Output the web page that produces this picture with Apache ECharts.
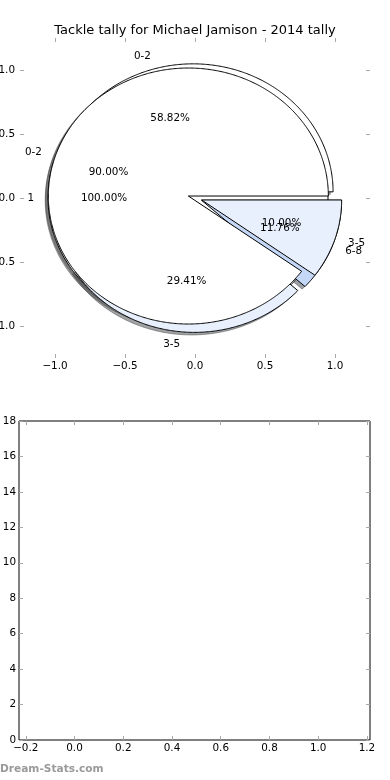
<!DOCTYPE html>
<html>
<head>
<meta charset="utf-8">
<script src="https://cdn.jsdelivr.net/npm/echarts@6/dist/echarts.min.js"></script>
<style>
html,body{margin:0;padding:0;background:#fff;}
#chart{width:390px;height:780px;}
</style>
</head>
<body>
<div id="chart"></div>
<script>
// ---- data ----
const chartTitle = 'Tackle tally for Michael Jamison - 2014 tally';
const pieLabelsA = ['1'];
const pieValuesA = [1];
const pieLabelsB = ['0-2', '3-5'];
const pieValuesB = [9, 1];
const pieLabelsC = ['0-2', '3-5', '6-8'];
const pieValuesC = [10, 5, 2];
const topTickMin = -1.0, topTickMax = 1.0, topTickStep = 0.5;
const bottomXTickMin = -0.2, bottomXTickMax = 1.2, bottomXTickStep = 0.2;
const bottomYMin = 0, bottomYMax = 18, bottomYStep = 2;
const watermark = 'Dream-Stats.com';

// ---- style ----
const sliceColors = [[255, 255, 255], [233, 240, 253], [196, 215, 247]];
const EXPLODE = 0.05;
const FONT = '"DejaVu Sans", sans-serif';
const FS = 10.4;

function fmt1(v) { return (v < 0 ? '\u2212' : '') + Math.abs(v).toFixed(1); }

function slicesOf(values, labels) {
  const total = values.reduce((a, b) => a + b, 0);
  let a = 0;
  return values.map((v, i) => {
    const t1 = a, t2 = a + 360 * v / total;
    a = t2;
    return { t1, t2, mid: (t1 + t2) / 2, frac: v / total, label: labels[i], ci: i };
  });
}
// drawing order as in the reference: A, then C, then B
const pies = [
  slicesOf(pieValuesA, pieLabelsA),
  slicesOf(pieValuesC, pieLabelsC),
  slicesOf(pieValuesB, pieLabelsB)
];

const rad = d => d * Math.PI / 180;

function wedgePoints(api, s, dx, dy) {
  const m = rad(s.mid);
  const cx = EXPLODE * Math.cos(m) + dx, cy = EXPLODE * Math.sin(m) + dy;
  const pts = [];
  const full = (s.t2 - s.t1) >= 359.999;
  if (!full) pts.push(api.coord([cx, cy]));
  const n = Math.max(2, Math.ceil((s.t2 - s.t1) / 0.5));
  for (let k = 0; k <= n; k++) {
    const t = rad(s.t1 + (s.t2 - s.t1) * k / n);
    pts.push(api.coord([cx + Math.cos(t), cy + Math.sin(t)]));
  }
  return pts;
}

function rgb(c, k) { return 'rgb(' + c.map(x => Math.round(x * k)).join(',') + ')'; }

const allSlices = [];
pies.forEach(p => p.forEach(s => allSlices.push(s)));

const series = [];
series.push({
  type: 'custom', xAxisIndex: 0, yAxisIndex: 0, z: 1, silent: true,
  data: allSlices.map(s => [0, 0, s.frac]),
  renderItem: function (params, api) {
    const s = allSlices[params.dataIndex];
    const c = sliceColors[s.ci];
    const col = 'rgba(' + c.map(x => Math.round(x * 0.3)).join(',') + ',0.5)';
    return { type: 'polygon', shape: { points: wedgePoints(api, s, -0.02, -0.02) },
      style: { fill: col, stroke: col, lineWidth: 1 } };
  }
});
pies.forEach((p, pi) => {
  series.push({
    type: 'custom', xAxisIndex: 0, yAxisIndex: 0, z: 2 + pi, silent: true,
    data: p.map(s => [0, 0, s.frac]),
    renderItem: function (params, api) {
      const s = p[params.dataIndex];
      return { type: 'polygon', shape: { points: wedgePoints(api, s, 0, 0) },
        style: { fill: rgb(sliceColors[s.ci], 1), stroke: '#000', lineWidth: 1 } };
    }
  });
});
series.push({
  type: 'custom', xAxisIndex: 0, yAxisIndex: 0, z: 10, silent: true,
  data: allSlices.map(s => [0, 0, s.frac]),
  renderItem: function (params, api) {
    const s = allSlices[params.dataIndex];
    const m = rad(s.mid);
    const lx = (EXPLODE + 1.1) * Math.cos(m), ly = (EXPLODE + 1.1) * Math.sin(m);
    const px = (EXPLODE + 0.6) * Math.cos(m), py = (EXPLODE + 0.6) * Math.sin(m);
    const lp = api.coord([lx, ly]), pp = api.coord([px, py]);
    return { type: 'group', children: [
      { type: 'text', x: lp[0], y: lp[1], style: { text: s.label, fill: '#000',
        font: FS + 'px ' + FONT, align: lx > 0 ? 'left' : 'right', verticalAlign: 'middle' } },
      { type: 'text', x: pp[0], y: pp[1], style: { text: (s.frac * 100).toFixed(2) + '%', fill: '#000',
        font: FS + 'px ' + FONT, align: 'center', verticalAlign: 'middle' } }
    ] };
  }
});

const tickStyle = { show: true, inside: true, length: 4, lineStyle: { color: '#a8a8a8', width: 1 } };
const labelStyle = { color: '#000', fontSize: FS, fontFamily: FONT };

function ax(gi, pos, min, max, opts) {
  return Object.assign({
    type: 'value', gridIndex: gi, position: pos, min: min, max: max,
    axisLine: { show: false, onZero: false }, splitLine: { show: false },
    axisTick: tickStyle, axisLabel: { show: false }
  }, opts || {});
}
function hidden(gi, min, max) {
  return { type: 'value', gridIndex: gi, min: min, max: max, show: false,
    axisLine: { onZero: false }, splitLine: { show: false } };
}
function g(o) { return Object.assign({ outerBoundsMode: 'none', containLabel: false, show: false }, o); }

const option = {
  animation: false,
  backgroundColor: '#fff',
  title: { text: chartTitle, left: 'center', top: 19,
    textStyle: { color: '#000', fontSize: 13, fontWeight: 'normal', fontFamily: FONT } },
  graphic: [{ type: 'text', left: 0, top: 764, style: { text: watermark, fill: '#9a9a9a',
    font: 'bold 10.6px ' + FONT } }],
  grid: [
    g({ left: 20, width: 350, top: 38, height: 320 }),                 // 0 pie coords
    g({ left: 19, width: 351, top: 421, height: 319, show: true,
        borderColor: '#000', borderWidth: 1, backgroundColor: 'transparent' }), // 1 bottom frame + y ticks
    g({ left: 55, width: 280, top: 38, height: 320 }),                 // 2 top x ticks
    g({ left: 20, width: 350, top: 70, height: 256 }),                 // 3 top y ticks
    g({ left: 25.76, width: 341.2, top: 421, height: 319 })            // 4 bottom x ticks
  ],
  xAxis: [
    hidden(0, -1.25, 1.25),
    hidden(1, -0.2275, 1.2125),
    ax(2, 'bottom', topTickMin, topTickMax, { interval: topTickStep,
      axisLabel: Object.assign({ show: true, margin: 3, formatter: fmt1 }, labelStyle) }),
    ax(2, 'top', topTickMin, topTickMax, { interval: topTickStep }),
    hidden(3, 0, 1),
    ax(4, 'bottom', bottomXTickMin, bottomXTickMax, { interval: bottomXTickStep,
      axisLabel: Object.assign({ show: true, margin: 3, formatter: fmt1 }, labelStyle) }),
    ax(4, 'top', bottomXTickMin, bottomXTickMax, { interval: bottomXTickStep })
  ],
  yAxis: [
    hidden(0, -1.25, 1.25),
    ax(1, 'left', bottomYMin, bottomYMax, { interval: bottomYStep,
      axisLabel: Object.assign({ show: true, margin: 3 }, labelStyle) }),
    ax(1, 'right', bottomYMin, bottomYMax, { interval: bottomYStep }),
    hidden(2, 0, 1),
    ax(3, 'left', topTickMin, topTickMax, { interval: topTickStep,
      axisLabel: Object.assign({ show: true, margin: 5, formatter: fmt1 }, labelStyle) }),
    ax(3, 'right', topTickMin, topTickMax, { interval: topTickStep }),
    hidden(4, 0, 1)
  ],
  series: series
};

const chart = echarts.init(document.getElementById('chart'), null, { renderer: 'canvas' });
chart.setOption(option);
</script>
</body>
</html>
